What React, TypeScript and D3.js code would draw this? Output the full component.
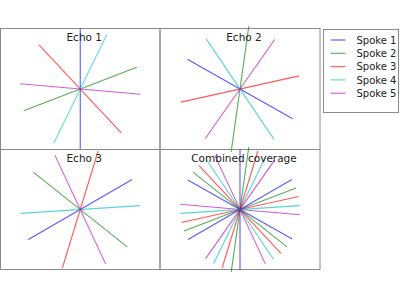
import React from 'react';
import * as d3 from 'd3';

// spoke names and matplotlib "classic" colours
const SPOKES = ['Spoke 1', 'Spoke 2', 'Spoke 3', 'Spoke 4', 'Spoke 5'];
const SPOKE_COLORS = ['#0000ff', '#008000', '#ff0000', '#00bfbf', '#bf00bf'];

const PANEL_TITLES = ['Echo 1', 'Echo 2', 'Echo 3', 'Combined coverage'];

// spoke direction in degrees (counter-clockwise from +x), one entry per spoke
const ECHO1_ANGLES = [90, 21, 133, 64, 175];
const ECHO2_ANGLES = [150.5, 82, 12.5, 124, 55];
const ECHO3_ANGLES = [30, 141.5, 73, 3.7, 115];

// half-length of each spoke in data units
const ECHO1_LENGTHS = [1, 1, 1, 1, 1];
const ECHO2_LENGTHS = [1, 1.05, 1, 1, 1];
const ECHO3_LENGTHS = [1, 1, 1.02, 1, 1];

const ECHOES = [
  { angles: ECHO1_ANGLES, lengths: ECHO1_LENGTHS },
  { angles: ECHO2_ANGLES, lengths: ECHO2_LENGTHS },
  { angles: ECHO3_ANGLES, lengths: ECHO3_LENGTHS },
];

const W = 400;
const H = 300;
const FONT = '"DejaVu Sans", sans-serif';
const FRAME = '#8a8a8a';

// panel frames (left, top, right, bottom) in px
const COLS = [[0.5, 160], [160, 320]];
const ROWS = [[28.5, 149.5], [149.5, 269.5]];

type Spoke = { angle: number; len: number; color: string };

const Panel = ({ col, row, title, spokes }: { col: number; row: number; title: string; spokes: Spoke[] }) => {
  const [x0, x1] = COLS[col];
  const [y0, y1] = ROWS[row];
  // equal aspect: ylim [-1, 1], xlim widened to keep the same px per unit
  const y = d3.scaleLinear().domain([-1, 1]).range([y1, y0]);
  const k = (y1 - y0) / 2;
  const half = (x1 - x0) / 2 / k;
  const x = d3.scaleLinear().domain([-half, half]).range([x0, x1]);
  const line = d3.line<[number, number]>().x(d => x(d[0])).y(d => y(d[1]));

  return (
    <g>
      <rect x={x0} y={y0} width={x1 - x0} height={y1 - y0} fill="none" stroke={FRAME} strokeWidth={1} />
      {spokes.map((s, i) => {
        const a = (s.angle * Math.PI) / 180;
        const dx = Math.cos(a) * s.len;
        const dy = Math.sin(a) * s.len;
        return (
          <path key={i} d={line([[-dx, -dy], [dx, dy]]) || ''} stroke={s.color} strokeOpacity={0.65} strokeWidth={1.1} fill="none" />
        );
      })}
      <text x={(x0 + x1) / 2 + 4} y={y0 + 12.5} textAnchor="middle" fontFamily={FONT} fontSize={10.5} fill="#222">
        {title}
      </text>
    </g>
  );
};

const Legend = () => {
  const left = 323.5;
  const top = 29.5;
  return (
    <g>
      <rect x={left} y={top} width={75} height={83} fill="#fff" stroke={FRAME} strokeWidth={1} />
      {SPOKES.map((name, i) => {
        const cy = top + 10.5 + i * 13.3;
        return (
          <g key={name}>
            <line x1={left + 7} x2={left + 22} y1={cy} y2={cy} stroke={SPOKE_COLORS[i]} strokeOpacity={0.65} strokeWidth={1.1} />
            <text x={left + 33} y={cy + 3.6} fontFamily={FONT} fontSize={10} fill="#222">{name}</text>
          </g>
        );
      })}
    </g>
  );
};

export default function App() {
  const echoSpokes: Spoke[][] = ECHOES.map(e =>
    e.angles.map((angle, i) => ({ angle, len: e.lengths[i], color: SPOKE_COLORS[i] }))
  );
  const combined = echoSpokes.flat();
  const cells = [
    { col: 0, row: 0 },
    { col: 1, row: 0 },
    { col: 0, row: 1 },
    { col: 1, row: 1 },
  ];

  return (
    <svg width={W} height={H} style={{ position: 'absolute', left: 0, top: 0, background: '#fff' }}>
      {cells.map((c, i) => (
        <Panel key={i} col={c.col} row={c.row} title={PANEL_TITLES[i]} spokes={i < 3 ? echoSpokes[i] : combined} />
      ))}
      <Legend />
    </svg>
  );
}
